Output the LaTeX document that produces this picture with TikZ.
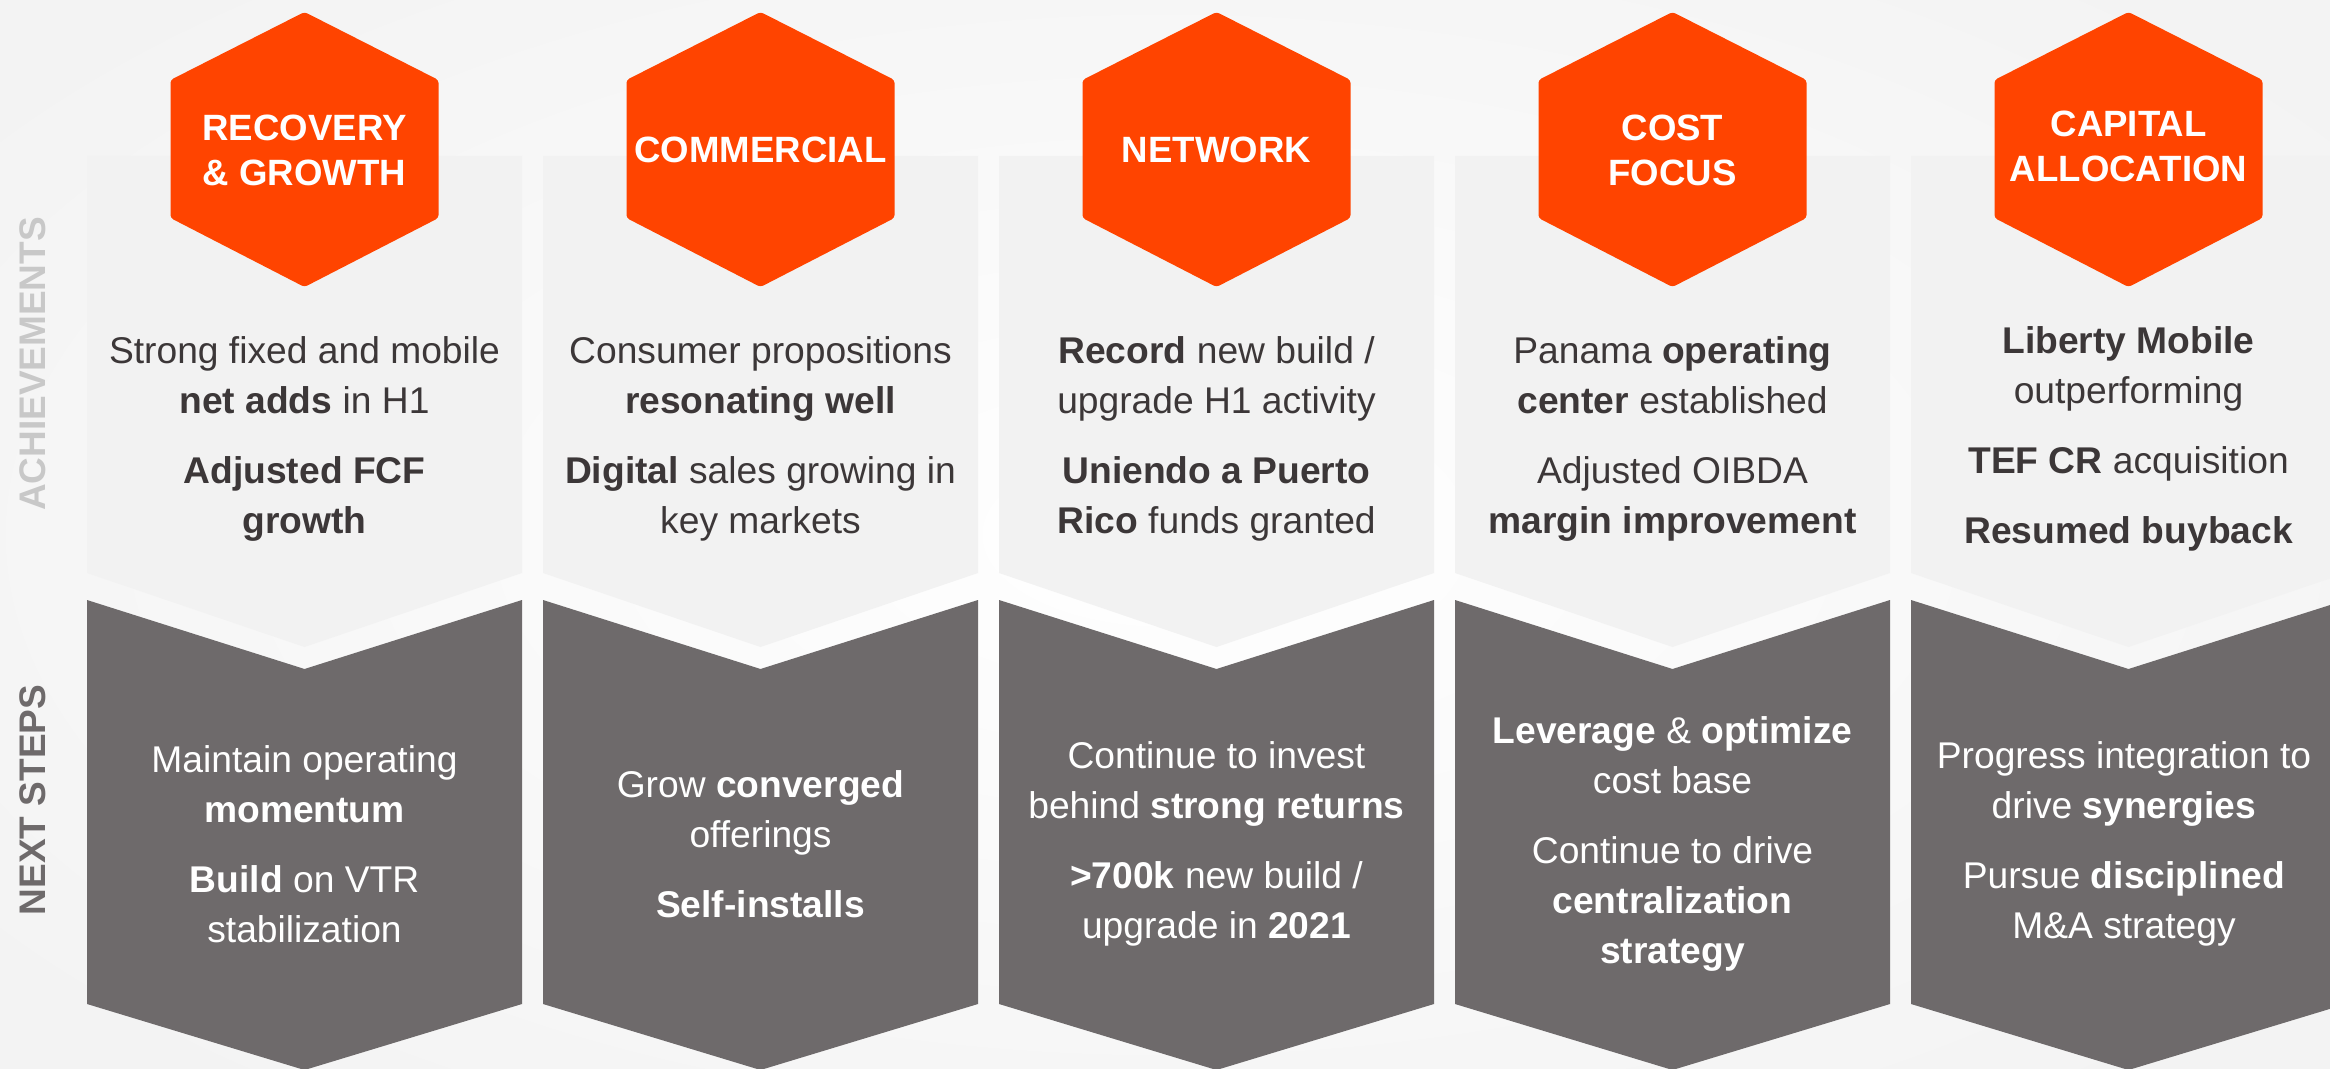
\documentclass[tikz,border=0pt]{standalone}
\usepackage{fontspec}
\setmainfont{Liberation Sans}
\usetikzlibrary{positioning}
\definecolor{hexorange}{RGB}{255,68,0}
\definecolor{achgray}{RGB}{242,242,242}
\definecolor{nextgray}{RGB}{110,106,107}
\definecolor{txtdark}{RGB}{60,55,56}
\definecolor{lblgray}{RGB}{200,200,200}
\definecolor{bggray}{RGB}{243,243,243}

\begin{document}
\begin{tikzpicture}[x=0.5pt,y=-0.5pt,
hexa/.style={fill=hexorange,rounded corners=1.5pt},
upper/.style={fill=achgray},
lower/.style={fill=nextgray},
hexlbl/.style={text=white,font=\bfseries\fontsize{18.3}{22.5}\selectfont,align=center},
achtxt/.style={text=txtdark,font=\fontsize{18.6}{25}\selectfont,align=center},
nexttxt/.style={text=white,font=\fontsize{18.6}{25}\selectfont,align=center},
side/.style={rotate=90,font=\bfseries\fontsize{18.5}{22}\selectfont}
]
\clip (0,0) rectangle (2330,1069);
\shade[inner color=white,outer color=bggray] (-300,-200) rectangle (2630,1269);

% five columns: light panel, dark chevron, orange hexagon
\foreach \i in {0,...,4} {
  \pgfmathsetmacro\cx{304.5+456*\i}
  \fill[upper] (\cx-217.5,156) -- (\cx+217.5,156) -- (\cx+217.5,573) -- (\cx,647) -- (\cx-217.5,573) -- cycle;
  \fill[lower] (\cx-217.5,600) -- (\cx,669) -- (\cx+217.5,600) -- (\cx+217.5,1004) -- (\cx,1070) -- (\cx-217.5,1004) -- cycle;
  \fill[hexa] (\cx,12) -- (\cx+134,80) -- (\cx+134,218) -- (\cx,287) -- (\cx-134,218) -- (\cx-134,80) -- cycle;
}

% row labels
\node[side,text=lblgray] (ach) at (33,364) {ACHIEVEMENTS};
\node[side,text=nextgray] (nxt) at (33,800) {NEXT STEPS};

% hexagon titles
\node[hexlbl] (h1) at (304.5,150) {RECOVERY\\\& GROWTH};
\node[hexlbl] (h2) at (760.5,150) {COMMERCIAL};
\node[hexlbl] (h3) at (1216.5,150) {NETWORK};
\node[hexlbl] (h4) at (1672.5,150) {COST\\FOCUS};
\node[hexlbl] (h5) at (2128.5,146) {CAPITAL\\ALLOCATION};

% achievements
\node[achtxt] (a1) at (304.5,439) {Strong fixed and mobile\\\textbf{net adds} in H1\\[10pt]\textbf{Adjusted FCF}\\\textbf{growth}};
\node[achtxt] (a2) at (760.5,439) {Consumer propositions\\\textbf{resonating well}\\[10pt]\textbf{Digital} sales growing in\\key markets};
\node[achtxt] (a3) at (1216.5,439) {\textbf{Record} new build /\\upgrade H1 activity\\[10pt]\textbf{Uniendo a Puerto}\\\textbf{Rico} funds granted};
\node[achtxt] (a4) at (1672.5,439) {Panama \textbf{operating}\\\textbf{center} established\\[10pt]Adjusted OIBDA\\\textbf{margin improvement}};
\node[achtxt] (a5) at (2128.5,439) {\textbf{Liberty Mobile}\\outperforming\\[10pt]\textbf{TEF CR} acquisition\\[10pt]\textbf{Resumed buyback}};

% next steps
\node[nexttxt] (n1) at (304.5,844) {Maintain operating\\\textbf{momentum}\\[10pt]\textbf{Build} on VTR\\stabilization};
\node[nexttxt] (n2) at (760.5,844) {Grow \textbf{converged}\\offerings\\[10pt]\textbf{Self-installs}};
\node[nexttxt] (n3) at (1216.5,844) {Continue to invest\\behind \textbf{strong returns}\\[10pt]\textbf{>700k} new build /\\upgrade in \textbf{2021}};
\node[nexttxt] (n4) at (1672.5,844) {\textbf{Leverage} \& \textbf{optimize}\\cost base\\[10pt]Continue to drive\\\textbf{centralization}\\\textbf{strategy}};
\node[nexttxt] (n5) at (2124,844) {Progress integration to\\drive \textbf{synergies}\\[10pt]Pursue \textbf{disciplined}\\M\&A strategy};
\end{tikzpicture}
\end{document}
